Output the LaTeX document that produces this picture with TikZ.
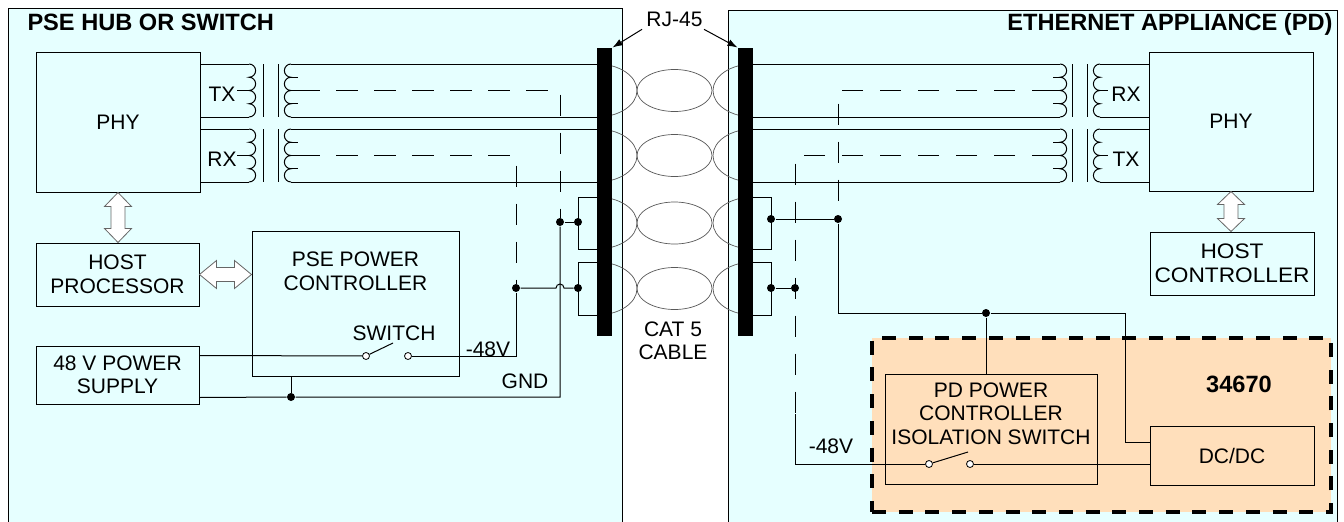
\documentclass[tikz,border=0pt]{standalone}
\usepackage{fontspec}
\setmainfont{Liberation Sans}
\newfontfamily\widefont{Liberation Sans}[FakeStretch=1.08]
\usetikzlibrary{arrows.meta,calc}
\definecolor{panel}{HTML}{E6FFFF}
\definecolor{peach}{HTML}{FFDFBB}
\begin{document}
\begin{tikzpicture}[x=1pt,y=-1pt,line width=1pt,
  font=\fontsize{21}{23.5}\selectfont,
  box/.style={draw, inner sep=0, align=center},
  txt/.style={inner sep=0, align=center},
  dot/.style={circle, fill=black, inner sep=0, minimum size=8pt},
  swc/.style={circle, draw, fill=white, inner sep=0, minimum size=7pt, line width=0.8pt},
  dwire/.style={dash pattern=on 21.5pt off 16.5pt},
  cab/.style={draw=black!65, line width=0.7pt},
  darrow/.style={draw=black!60, fill=white, line width=0.8pt, line join=miter},
  bar/.style={fill=black, draw=none, inner sep=0, minimum width=15pt, minimum height=288pt},
  ttl/.style={inner sep=0, font=\bfseries\fontsize{23.6}{26}\selectfont}]

\useasboundingbox (0,0) rectangle (1344,522);
\fill[white] (0,0) rectangle (1344,522);
\draw[fill=panel] (8,8) rectangle (622,530);
\draw[fill=panel] (728,10) rectangle (1337,530);

\node[ttl, anchor=base west] (tL) at (27,30) {PSE HUB OR SWITCH};
\node[ttl, anchor=base east] (tR) at (1333,30) {ETHERNET APPLIANCE (PD)};

% chip area
\node[draw, fill=peach, line width=3.3pt, dash pattern=on 14pt off 12.7pt,
      minimum width=459pt, minimum height=174pt, inner sep=0] (chip) at (1101.5,425) {};

% cable twisted pairs
\foreach \cy/\h in {90.5/26.5, 155.5/26.5, 223/26, 288.5/26.5} {
  \draw[cab] (597,\cy-\h) arc[start angle=-90,end angle=90,x radius=40,y radius=\h];
  \draw[cab] (753,\cy+\h) arc[start angle=90,end angle=270,x radius=40,y radius=\h];
  \draw[cab] (674.5,\cy) ellipse[x radius=37.5, y radius=21];
}

% blocks
\node[box, minimum width=164pt, minimum height=140pt] (phyL) at (118,122) {PHY};
\node[box, minimum width=163pt, minimum height=63pt] (hostP) at (117.5,274.5) {HOST\\PROCESSOR};
\node[box, minimum width=207pt, minimum height=145pt] (pseC) at (355.5,303.5) {};
\node[txt] (pseT) at (355.5,271.5) {PSE POWER\\CONTROLLER};
\node[box, minimum width=163pt, minimum height=58pt] (psu) at (117.5,375) {48 V POWER\\SUPPLY};
\node[box, minimum width=164pt, minimum height=139pt] (phyR) at (1231,121.5) {PHY};
\node[box, minimum width=164pt, minimum height=63pt, font=\widefont\fontsize{21}{23.5}\selectfont] (hostC) at (1232,263.5) {HOST\\CONTROLLER};
\node[box, minimum width=212pt, minimum height=110pt] (pdC) at (991,429) {};
\node[txt] (pdT) at (991,413.5) {PD POWER\\CONTROLLER\\ISOLATION SWITCH};
\node[box, minimum width=164pt, minimum height=59pt] (dcdc) at (1232,455.5) {DC/DC};
\node[ttl] (chipT) at (1239,384) {34670};

% left transformers
\foreach \ya/\yb/\lab in {64/117/TX, 129/182/RX} {
  \pgfmathsetmacro\rr{(\yb-\ya)/8}
  \pgfmathsetmacro\cy{(\ya+\yb)/2}
  \draw (200,\ya) -- (249,\ya);
  \draw (200,\yb) -- (249,\yb);
  \draw (249,\ya) arc[start angle=-90,end angle=90,radius=\rr]
    arc[start angle=-90,end angle=90,radius=\rr]
    arc[start angle=-90,end angle=90,radius=\rr]
    arc[start angle=-90,end angle=90,radius=\rr];
  \draw (237,\cy) -- (249,\cy);
  \draw (263,\ya) -- (263,\yb);
  \draw (278,\ya) -- (278,\yb);
  \draw (291,\ya) arc[start angle=-90,end angle=-270,radius=\rr]
    arc[start angle=-90,end angle=-270,radius=\rr]
    arc[start angle=-90,end angle=-270,radius=\rr]
    arc[start angle=-90,end angle=-270,radius=\rr];
  \draw (291,\ya) -- (597,\ya);
  \draw (291,\yb) -- (597,\yb);
  \foreach \k in {1,2,3} \draw (291,\ya+2*\k*\rr) -- (298,\ya+2*\k*\rr);
  \node[txt] at (222,\cy+3.5) {\lab};
}

% right transformers
\foreach \ya/\yb/\lab in {64/117/RX, 129/182/TX} {
  \pgfmathsetmacro\rr{(\yb-\ya)/8}
  \pgfmathsetmacro\cy{(\ya+\yb)/2}
  \draw (753,\ya) -- (1060,\ya);
  \draw (753,\yb) -- (1060,\yb);
  \draw (1060,\ya) arc[start angle=-90,end angle=90,radius=\rr]
    arc[start angle=-90,end angle=90,radius=\rr]
    arc[start angle=-90,end angle=90,radius=\rr]
    arc[start angle=-90,end angle=90,radius=\rr];
  \foreach \k in {1,2,3} \draw (1053,\ya+2*\k*\rr) -- (1060,\ya+2*\k*\rr);
  \draw (1072,\ya) -- (1072,\yb);
  \draw (1087,\ya) -- (1087,\yb);
  \draw (1100,\ya) arc[start angle=-90,end angle=-270,radius=\rr]
    arc[start angle=-90,end angle=-270,radius=\rr]
    arc[start angle=-90,end angle=-270,radius=\rr]
    arc[start angle=-90,end angle=-270,radius=\rr];
  \draw (1100,\ya) -- (1149,\ya);
  \draw (1100,\yb) -- (1149,\yb);
  \draw (1100,\cy) -- (1108,\cy);
  \node[txt] at (1126,\cy+4) {\lab};
}

% connector bars and labels
\node[bar] (barL) at (604.5,192) {};
\node[bar] (barR) at (745.5,192) {};
\node[txt] (rj) at (674.5,19.5) {RJ-45};
\node[txt] (cat) at (673,341) {CAT 5\\CABLE};
\draw[-{Latex[length=10pt,width=7pt]}] ($(rj.south west)+(-4,2)$) -- (barL.north east);
\draw[-{Latex[length=10pt,width=7pt]}] ($(rj.south east)+(1,2)$) -- (barR.north west);

% double arrows
\draw[darrow] let \p1=(phyL.south), \p2=(hostP.north) in
  (\x1,\y1) -- (\x1+13.5pt,\y1-14pt) -- (\x1+7pt,\y1-14pt) -- (\x1+7pt,\y2+14pt)
  -- (\x1+13.5pt,\y2+14pt) -- (\x1,\y2) -- (\x1-13.5pt,\y2+14pt) -- (\x1-7pt,\y2+14pt)
  -- (\x1-7pt,\y1-14pt) -- (\x1-13.5pt,\y1-14pt) -- cycle;
\draw[darrow] let \p1=(phyR.south), \p2=(hostC.north) in
  (\x1,\y1) -- (\x1+13.5pt,\y1-13pt) -- (\x1+7pt,\y1-13pt) -- (\x1+7pt,\y2+13pt)
  -- (\x1+13.5pt,\y2+13pt) -- (\x1,\y2) -- (\x1-13.5pt,\y2+13pt) -- (\x1-7pt,\y2+13pt)
  -- (\x1-7pt,\y1-13pt) -- (\x1-13.5pt,\y1-13pt) -- cycle;
\draw[darrow] let \p1=(hostP.east), \p2=(pseC.west) in
  (\x1,\y1) -- (\x1+17pt,\y1+14pt) -- (\x1+17pt,\y1+7pt) -- (\x2-17pt,\y1+7pt)
  -- (\x2-17pt,\y1+14pt) -- (\x2,\y1) -- (\x2-17pt,\y1-14pt) -- (\x2-17pt,\y1-7pt)
  -- (\x1+17pt,\y1-7pt) -- (\x1+17pt,\y1-14pt) -- cycle;

% left power wiring
\node[swc] (s1) at (366,356) {};
\node[swc] (s2) at (408,356) {};
\node[txt] (swT) at (394,333.5) {SWITCH};
\node[dot] (jm48) at (516,288) {};
\node[dot] (jgnd) at (560,222) {};
\node[dot] (jb3) at (578,222) {};
\node[dot] (jb4) at (578,288) {};
\node[dot] (jg) at (291,397) {};
\draw ($(psu.north east)+(0,10)$) -- (s1);
\draw (s1) -- (393,343);
\draw (s2) -- (s2 -| jm48) -- (jm48);
\draw ($(psu.south east)+(0,-7)$) -- (jg) -- (jg -| jgnd) -- (jgnd);
\draw (jg) -- (jg |- pseC.south);
\draw (jgnd) -- (jb3);
\draw (jm48) -- (556,288) arc[start angle=180,end angle=360,radius=4] -- (jb4);
\draw (597,197) -- (578,197) -- (578,249) -- (597,249);
\draw (597,262) -- (578,262) -- (578,315) -- (597,315);
\draw[dwire] (298,90.5) -| (jgnd);
\draw[dwire] (298,155.5) -| (jm48);
\node[txt] at (488,349) {-48V};
\node[txt] at (525,381) {GND};

% right power wiring
\node[dot] (jr3) at (771,219) {};
\node[dot] (jr3b) at (838,219) {};
\node[dot] (jr4) at (771,288) {};
\node[dot] (jr4b) at (795,288) {};
\node[dot] (jpd) at (986,313) {};
\node[swc] (s3) at (929,464) {};
\node[swc] (s4) at (970,464) {};
\coordinate (dcin) at ($(dcdc.north west)+(0,17)$);
\draw (753,197) -- (771,197) -- (771,249) -- (753,249);
\draw (753,262) -- (771,262) -- (771,315) -- (753,315);
\draw (jr3) -- (jr3b);
\draw (jr4) -- (jr4b);
\draw[dwire] (1053,90.5) -| (jr3b);
\draw[dwire] (1053,155.5) -| (795,414);
\draw (795,414) |- (s3);
\draw (s3) -- (968,452);
\draw (s4) -- (s4 -| dcdc.west);
\draw (jr3b) |- (jpd);
\draw (jpd) -- (1125,313) |- (dcin);
\draw (jpd) -- (jpd |- pdC.north);
\node[txt] at (831,446) {-48V};
\end{tikzpicture}
\end{document}
